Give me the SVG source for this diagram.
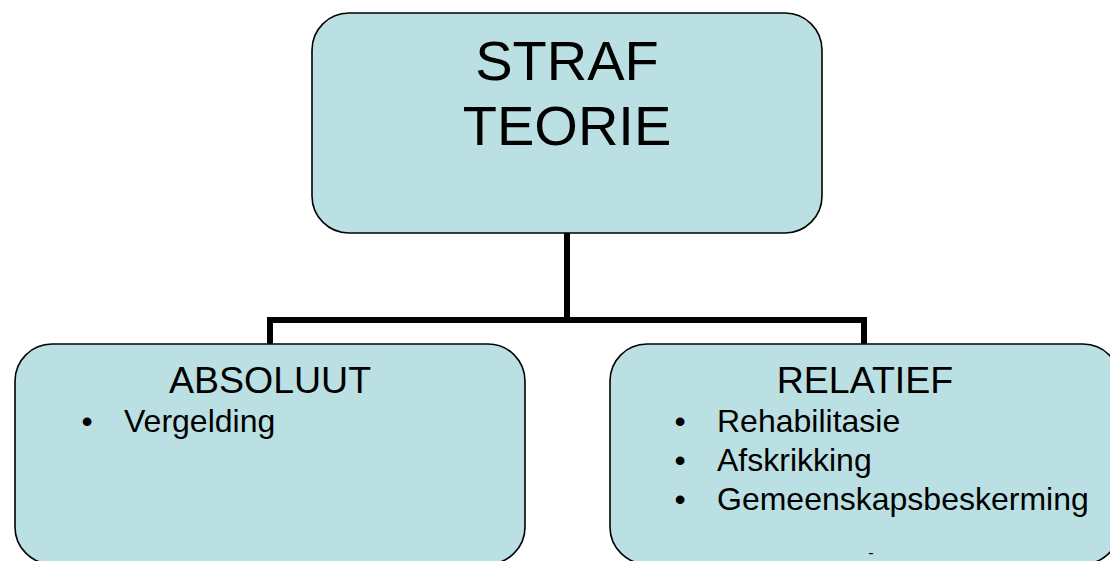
<svg xmlns="http://www.w3.org/2000/svg" width="1110" height="561" viewBox="0 0 1110 561">
<style>
.box{fill:#BBE0E3;stroke:#000;stroke-width:1.6}
.t{font-family:"Liberation Sans",Arial,sans-serif;fill:#000}
.h{font-size:37.5px;text-anchor:middle}
.i{font-size:32px}
.b{font-size:32px;text-anchor:middle}
.c{fill:none;stroke:#000;stroke-width:6;stroke-linejoin:miter}
</style>
<rect width="1110" height="561" fill="#fff"/>
<g id="connectors">
<path class="c" d="M567,233 V320"/>
<path class="c" d="M270,344 V320 H864 V344"/>
</g>
<g id="node-straf">
<rect class="box" x="312" y="13" width="510" height="220" rx="37" ry="37"/>
<text class="t" x="567" y="80" font-size="56" text-anchor="middle">STRAF</text>
<text class="t" x="567" y="145" font-size="56" text-anchor="middle">TEORIE</text>
</g>
<g id="node-absoluut">
<rect class="box" x="15" y="344" width="510" height="220" rx="37" ry="37"/>
<text class="t h" x="270" y="393">ABSOLUUT</text>
<text class="t b" x="87" y="432">•</text>
<text class="t i" x="124" y="432">Vergelding</text>
</g>
<g id="node-relatief">
<rect class="box" x="610" y="344" width="510" height="220" rx="37" ry="37"/>
<text class="t h" x="865" y="393">RELATIEF</text>
<text class="t b" x="680" y="432">•</text>
<text class="t i" x="717" y="432">Rehabilitasie</text>
<text class="t b" x="680" y="471">•</text>
<text class="t i" x="717" y="471">Afskrikking</text>
<text class="t b" x="680" y="510">•</text>
<text class="t i" x="717" y="510">Gemeenskapsbeskerming</text>
<text class="t" x="871" y="558" font-size="16" text-anchor="middle">-</text>
</g>
</svg>
